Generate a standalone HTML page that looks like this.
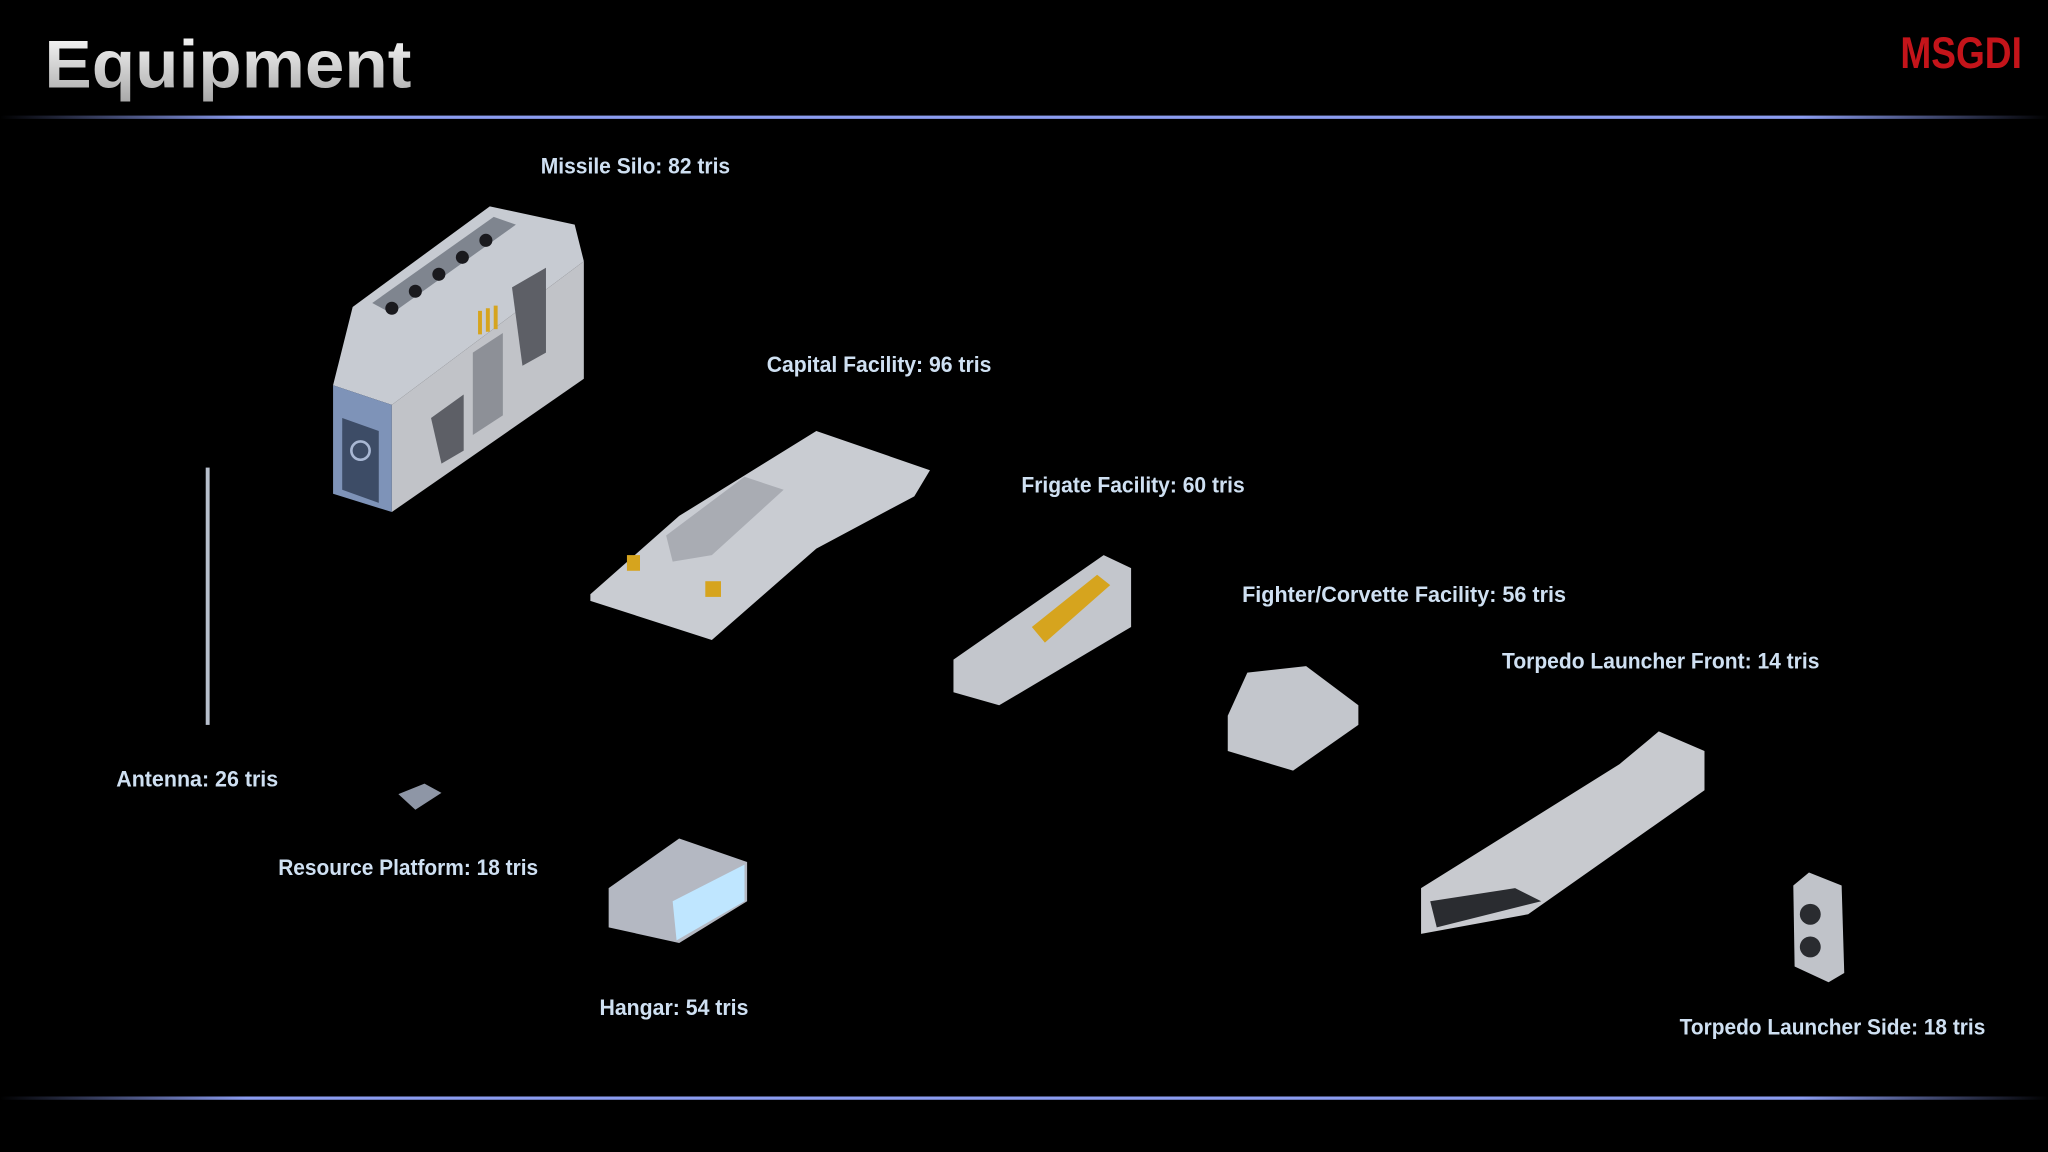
<!DOCTYPE html>
<html><head><meta charset="utf-8"><style>
html,body{margin:0;padding:0;background:#000;}
svg{display:block}
.l{font-family:"Liberation Sans",sans-serif;font-weight:bold;font-size:17px;fill:#cfe0f2;}
</style></head><body>
<svg width="2048" height="1152" viewBox="0 0 1568 882" xmlns="http://www.w3.org/2000/svg">
<defs>
<linearGradient id="ln" x1="0" x2="1" y1="0" y2="0">
<stop offset="0" stop-color="#8b9cf0" stop-opacity="0"/>
<stop offset="0.12" stop-color="#8b9cf0"/>
<stop offset="0.88" stop-color="#8b9cf0"/>
<stop offset="1" stop-color="#8b9cf0" stop-opacity="0"/>
</linearGradient>
<linearGradient id="tg" x1="0" x2="0" y1="0" y2="1">
<stop offset="0" stop-color="#ffffff"/><stop offset="1" stop-color="#a8a8a8"/>
</linearGradient>
</defs>
<rect width="1568" height="882" fill="#000"/>
<text x="34" y="67" font-family="'Liberation Sans',sans-serif" font-weight="bold" font-size="52" fill="url(#tg)" textLength="281" lengthAdjust="spacingAndGlyphs">Equipment</text>
<text x="1455" y="52" font-family="'Liberation Sans',sans-serif" font-weight="bold" font-size="34" fill="#c4141a" textLength="93" lengthAdjust="spacingAndGlyphs">MSGDI</text>
<rect x="0" y="88.5" width="1568" height="2.5" fill="url(#ln)"/>
<rect x="0" y="839.5" width="1568" height="2.5" fill="url(#ln)"/>

<!-- Missile silo -->
<polygon points="270,235 375,158 440,172 447,200 300,310 255,295" fill="#c7cbd2"/>
<polygon points="285,232 378,166 395,172 300,240" fill="#7f858f"/>
<g fill="#1a1a1e"><circle cx="300" cy="236" r="5"/><circle cx="318" cy="223" r="5"/><circle cx="336" cy="210" r="5"/><circle cx="354" cy="197" r="5"/><circle cx="372" cy="184" r="5"/></g>
<polygon points="255,295 300,310 300,392 255,378" fill="#7e93b8"/>
<polygon points="262,320 290,330 290,385 262,375" fill="#3d4c66"/>
<circle cx="276" cy="345" r="7" fill="none" stroke="#a9b8d4" stroke-width="2"/>
<polygon points="300,310 447,200 447,290 300,392" fill="#c1c3c8"/>
<polygon points="330,320 355,302 355,345 338,355" fill="#5d5f66"/>
<polygon points="392,220 418,205 418,270 400,280" fill="#5d5f66"/>
<polygon points="362,270 385,255 385,318 362,333" fill="#8d9097"/>
<rect x="366" y="238" width="3" height="18" fill="#d6a41e"/><rect x="372" y="236" width="3" height="18" fill="#d6a41e"/><rect x="378" y="234" width="3" height="18" fill="#d6a41e"/>
<!-- Antenna -->
<rect x="157.5" y="358" width="3" height="197" fill="#b7bfcc"/>
<!-- Capital facility -->
<polygon points="452,455 520,395 625,330 712,360 700,380 625,420 545,490 452,460" fill="#c9ccd2"/>
<polygon points="510,410 570,365 600,375 545,425 515,430" fill="#a9acb3"/>
<rect x="480" y="425" width="10" height="12" fill="#d6a41e"/>
<rect x="540" y="445" width="12" height="12" fill="#d6a41e"/>
<!-- Frigate -->
<polygon points="730,505 845,425 866,435 866,480 765,540 730,530" fill="#c3c6cc"/>
<polygon points="790,480 840,440 850,448 800,492" fill="#d6a41e"/>
<!-- Fighter -->
<polygon points="940,548 955,515 1000,510 1040,540 1040,555 990,590 940,575" fill="#c3c6cc"/>
<!-- Resource -->
<polygon points="305,608 325,600 338,607 318,620" fill="#8e96a6"/>
<!-- Hangar -->
<polygon points="466,680 520,642 572,660 572,690 520,722 466,710" fill="#b4b8c2"/>
<polygon points="515,690 570,662 570,690 518,720" fill="#bfe6ff"/>
<!-- Torpedo front -->
<polygon points="1088,680 1240,585 1270,560 1305,575 1305,605 1170,700 1088,715" fill="#c8cacf"/>
<polygon points="1095,690 1160,680 1180,690 1100,710" fill="#2a2c30"/>
<!-- Torpedo side -->
<polygon points="1373,678 1385,668 1410,678 1412,745 1400,752 1374,740" fill="#c0c3c9"/>
<circle cx="1386" cy="700" r="8" fill="#2a2c30"/><circle cx="1386" cy="725" r="8" fill="#2a2c30"/>

<text class="l" x="414" y="133" textLength="145" lengthAdjust="spacingAndGlyphs">Missile Silo: 82 tris</text>
<text class="l" x="587" y="285" textLength="172" lengthAdjust="spacingAndGlyphs">Capital Facility: 96 tris</text>
<text class="l" x="782" y="377" textLength="171" lengthAdjust="spacingAndGlyphs">Frigate Facility: 60 tris</text>
<text class="l" x="951" y="461" textLength="248" lengthAdjust="spacingAndGlyphs">Fighter/Corvette Facility: 56 tris</text>
<text class="l" x="1150" y="512" textLength="243" lengthAdjust="spacingAndGlyphs">Torpedo Launcher Front: 14 tris</text>
<text class="l" x="89" y="602" textLength="124" lengthAdjust="spacingAndGlyphs">Antenna: 26 tris</text>
<text class="l" x="213" y="670" textLength="199" lengthAdjust="spacingAndGlyphs">Resource Platform: 18 tris</text>
<text class="l" x="459" y="777" textLength="114" lengthAdjust="spacingAndGlyphs">Hangar: 54 tris</text>
<text class="l" x="1286" y="792" textLength="234" lengthAdjust="spacingAndGlyphs">Torpedo Launcher Side: 18 tris</text>
</svg>
</body></html>
